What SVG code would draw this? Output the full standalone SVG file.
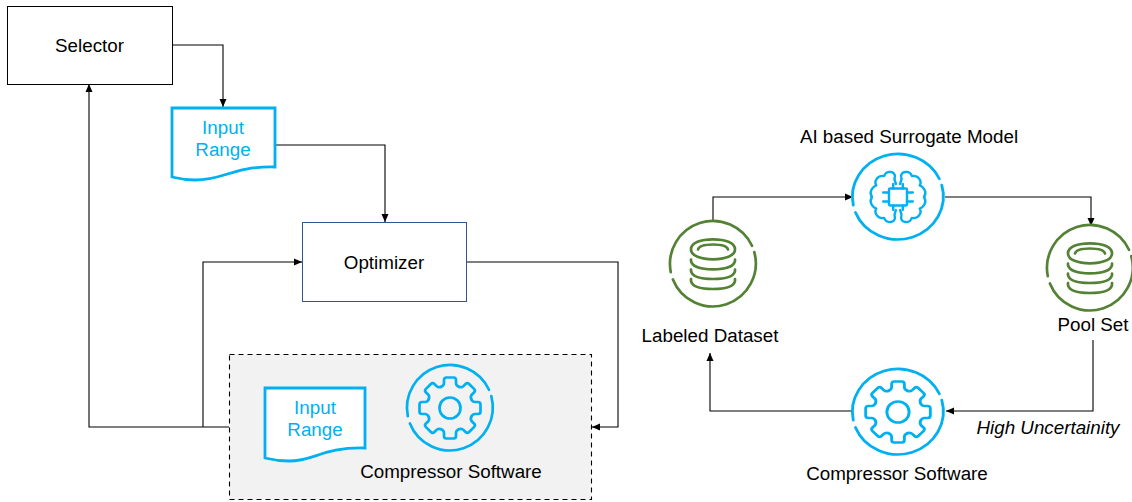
<svg xmlns="http://www.w3.org/2000/svg" width="1132" height="502" viewBox="0 0 1132 502">
<style>
text{font-family:"Liberation Sans",Arial,sans-serif;font-size:18.8px;fill:#000;text-anchor:middle}
.blue-text{fill:#00B0F0}
.box{fill:#fff;stroke:#000;stroke-width:1}
.doc{fill:#fff;stroke:#00B0F0;stroke-width:2.8}
.conn{fill:none;stroke:#000;stroke-width:1.1;marker-end:url(#arrow)}
.blue{fill:none;stroke:#00B0F0;stroke-width:2.7;stroke-linecap:round;stroke-linejoin:round}
.green{fill:none;stroke:#548235;stroke-width:2.7;stroke-linecap:round;stroke-linejoin:round}
</style>
<defs>
<marker id="arrow" markerUnits="userSpaceOnUse" markerWidth="9" markerHeight="9" refX="8" refY="4" orient="auto"><path d="M0,0.5L8,4L0,7.5z" fill="#000"/></marker>
<path id="ring" d="M-40.1,15.4A43,43 0 0 0 41.3,-11.9M39,-18.2A43,43 0 0 0 -42.2,8.2"/>
<path id="tooth" d="M-8.8,-21.25Q-6,-22.5 -6,-25V-28Q-6,-30.5 -3.5,-30.5H3.5Q6,-30.5 6,-28V-25Q6,-22.5 8.8,-21.25"/>
<g id="gear">
<use href="#tooth"/><use href="#tooth" transform="rotate(45)"/><use href="#tooth" transform="rotate(90)"/><use href="#tooth" transform="rotate(135)"/><use href="#tooth" transform="rotate(180)"/><use href="#tooth" transform="rotate(225)"/><use href="#tooth" transform="rotate(270)"/><use href="#tooth" transform="rotate(315)"/>
<circle r="10.5"/>
</g>
<g id="db">
<path d="M-22,-14.7C-22,-21.5 -12,-24.7 0,-24.7S22,-21.5 22,-14.7S12,-4.7 0,-4.7S-22,-7.9 -22,-14.7Z"/>
<path d="M-15,-14.5C-14,-18.5 -8,-19.5 0,-19.5S14,-18.5 15,-14.5"/>
<path d="M-22,-4.5V-3C-21,2.5 -12,5.3 0,5.3S21,2.5 22,-3V-4.5"/>
<path d="M-22,5.5V7C-21,12.5 -12,15 0,15S21,12.5 22,7V5.5"/>
<path d="M-22,15V17C-21,22.5 -12,25 0,25S21,22.5 22,17V15"/>
</g>
<path id="lobe" d="M-2,-13C-3,-17 -4,-18 -3,-20C-2,-26 -11,-27 -13,-21C-19,-22 -23,-16 -20.5,-11.5C-25,-10 -27,-4 -25,-1.5Q-24.5,0 -25,0"/>
</defs>

<g id="connectors">
<path class="conn" d="M172,45H223V107"/>
<path class="conn" d="M275,145H385V222"/>
<path class="conn" d="M466,262H618V427H592"/>
<path class="conn" d="M229,427H89V84"/>
<path class="conn" d="M203,427V262H302"/>
<path class="conn" d="M713,222V197H853"/>
<path class="conn" d="M945,197H1091V226"/>
<path class="conn" d="M1093,340V411H946"/>
<path class="conn" d="M853,411H710V353"/>
</g>

<g id="selector"><rect class="box" x="7.5" y="6.5" width="165" height="78"/><text x="89.500" y="52">Selector</text></g>

<g id="input-range-top">
<path class="doc" d="M172,108H275V167C232,166 225,180 195,180C185,180 180,179 172,177Z"/>
<text class="blue-text" x="223" y="134">Input</text>
<text class="blue-text" x="223" y="156">Range</text>
</g>

<g id="optimizer"><rect x="302.500" y="222.500" width="164" height="79" fill="#fff" stroke="#2F5597" stroke-width="1"/><text x="384" y="269">Optimizer</text></g>

<g id="compressor-group">
<rect x="229.500" y="354.500" width="362" height="145" fill="#F2F2F2" stroke="#000" stroke-width="1.100" stroke-dasharray="5 4"/>
<path class="doc" d="M265,388H365V448C322,447 315,461 289,461C279,461 273,460 265,458Z"/>
<text class="blue-text" x="315" y="414">Input</text>
<text class="blue-text" x="315" y="436">Range</text>
<g class="blue" transform="translate(450,408)"><use href="#ring"/><use href="#gear"/></g>
<text x="451" y="478">Compressor Software</text>
</g>

<g id="surrogate-model">
<g class="blue" transform="translate(898,197) scale(1.06,1)">
<use href="#ring"/>
<g stroke-width="2.300">
<rect x="-8.500" y="-8.500" width="17" height="17" rx="1"/>
<path d="M-4.500,-8.500V-13M4.500,-8.500V-13M-4.500,8.500V13M4.500,8.500V13M-8.500,-4.500H-14M-8.500,4.500H-14M8.500,-4.500H14M8.500,4.500H14"/>
<use href="#lobe"/><use href="#lobe" transform="scale(-1,1)"/><use href="#lobe" transform="scale(1,-1)"/><use href="#lobe" transform="scale(-1,-1)"/>
</g>
</g>
<text x="909" y="143">AI based Surrogate Model</text>
</g>

<g id="labeled-dataset">
<g class="green" transform="translate(713,264)"><use href="#ring"/><use href="#db"/></g>
<text x="710" y="342">Labeled Dataset</text>
</g>

<g id="pool-set">
<g class="green" transform="translate(1090,268)"><use href="#ring"/><use href="#db"/></g>
<text x="1093" y="331">Pool Set</text>
</g>

<g id="compressor-software">
<g class="blue" transform="translate(898,412) scale(1.06,1)"><use href="#ring"/><use href="#gear"/></g>
<text x="897" y="480">Compressor Software</text>
</g>

<text x="1048" y="434" font-style="italic">High Uncertainity</text>
</svg>
